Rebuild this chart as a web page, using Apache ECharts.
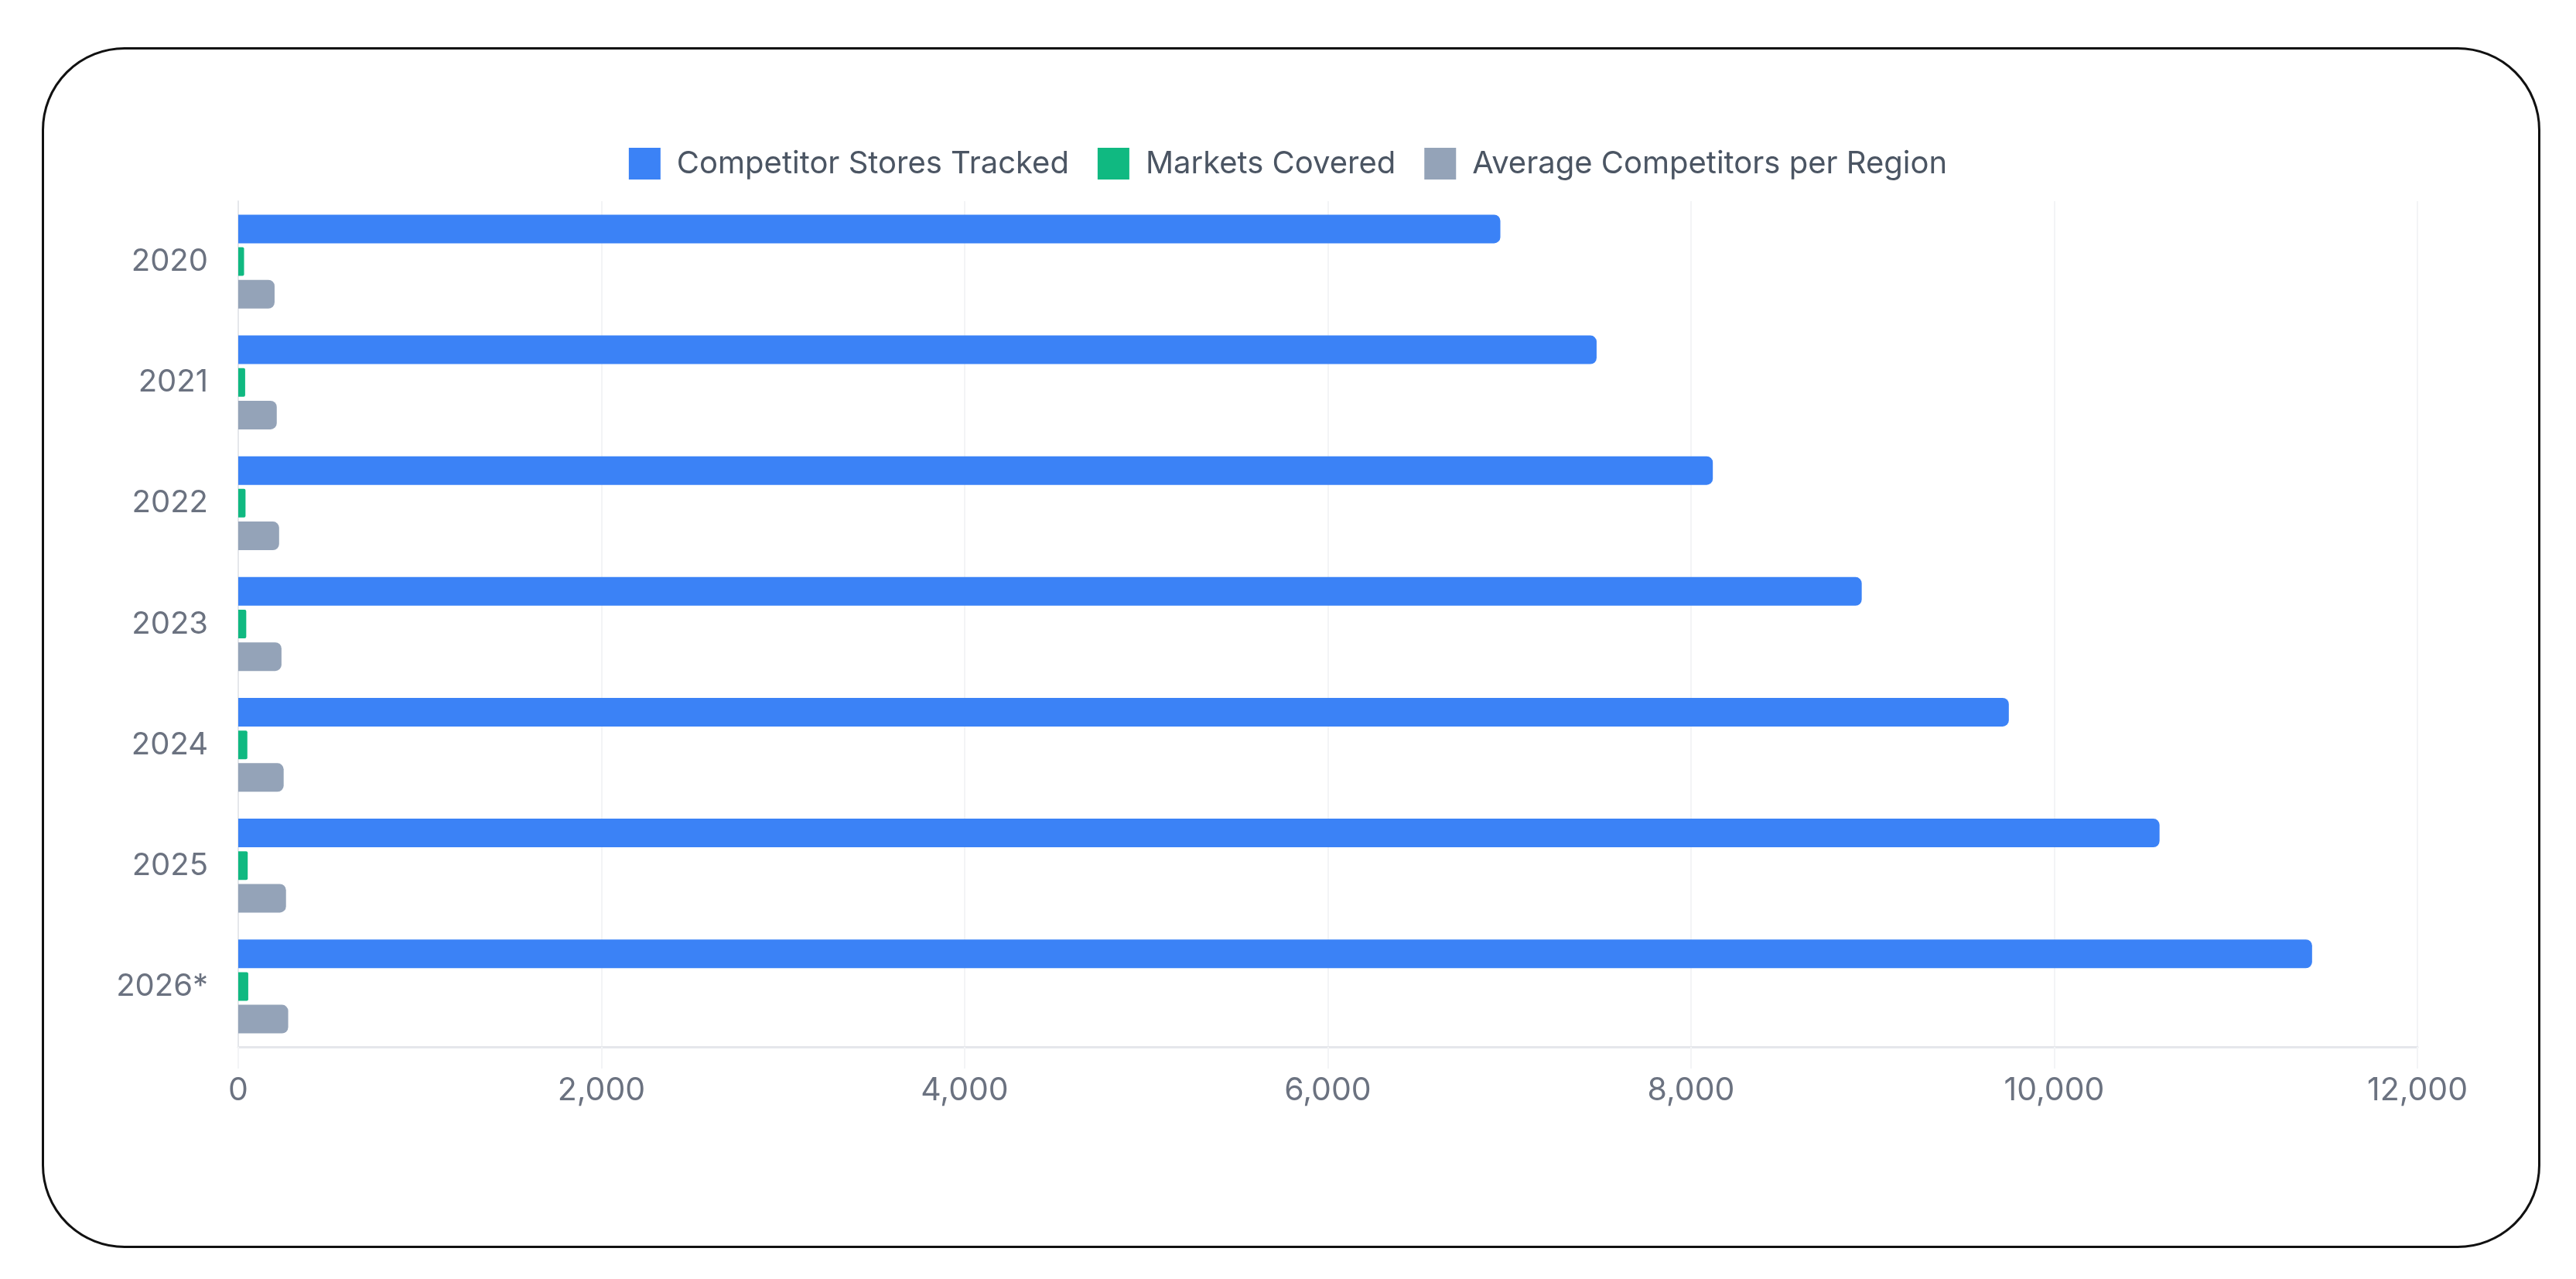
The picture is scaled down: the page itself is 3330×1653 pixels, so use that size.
<!DOCTYPE html>
<html>
<head>
<meta charset="utf-8">
<script src="https://cdn.jsdelivr.net/npm/echarts@6/dist/echarts.min.js"></script>
<style>
	html, body { margin: 0; padding: 0; background: #fff; }
	#wrap { position: relative; width: 3330px; height: 1653px; }
	#chart { position: absolute; left: 0; top: 0; width: 3330px; height: 1653px; }
	#frame {
		position: absolute; left: 54px; top: 61px; width: 3224px; height: 1546px;
		border: 3px solid #111; border-radius: 107px; pointer-events: none;
	}
</style>
</head>
<body>
<div id="wrap">
	<div id="chart"></div>
	<div id="frame"></div>
</div>
<script>
"use strict";

const years = ["2020", "2021", "2022", "2023", "2024", "2025", "2026*"];
const storesTracked = [6950, 7480, 8120, 8940, 9750, 10580, 11420];
const marketsCovered = [32, 38, 40, 44, 50, 52, 55];
const avgCompetitors = [200, 212, 225, 238, 250, 263, 275];

const font = "Inter, 'Noto Sans', sans-serif";
const chart = echarts.init(document.getElementById("chart"));

const bar = (name, data, color, radius) => ({
	name: name,
	type: "bar",
	data: data,
	barWidth: 37,
	barGap: "14%",
	itemStyle: { color: color, borderRadius: [0, radius, radius, 0] }
});

chart.setOption({
	animation: false,
	legend: {
		top: 186,
		left: "center",
		itemWidth: 41,
		itemHeight: 41,
		itemGap: 37,
		icon: "rect",
		textStyle: { fontFamily: font, fontSize: 40, color: "#4b5563", padding: [0, 0, 0, 16] }
	},
	grid: { left: 308, right: 205, top: 260, bottom: 300 },
	xAxis: {
		type: "value",
		min: 0,
		max: 12000,
		interval: 2000,
		axisLine: { show: true, lineStyle: { color: "#e5e7eb", width: 3 } },
		axisTick: { show: true, length: 28, lineStyle: { color: "#f3f4f6", width: 2 } },
		splitLine: { lineStyle: { color: "#f3f4f6", width: 2 } },
		axisLabel: {
			margin: 36,
			fontFamily: font,
			fontSize: 41,
			color: "#6b7280",
			formatter: (v) => v.toLocaleString("en-US")
		}
	},
	yAxis: {
		type: "category",
		inverse: true,
		data: years,
		axisLine: { show: true, lineStyle: { color: "#e5e7eb", width: 2 } },
		axisTick: { show: false },
		axisLabel: { margin: 39, fontFamily: font, fontSize: 40, color: "#6b7280" }
	},
	series: [
		bar("Competitor Stores Tracked", storesTracked, "#3b82f6", 8),
		bar("Markets Covered", marketsCovered, "#10b981", 2),
		bar("Average Competitors per Region", avgCompetitors, "#94a3b8", 8)
	]
});
</script>
</body>
</html>
